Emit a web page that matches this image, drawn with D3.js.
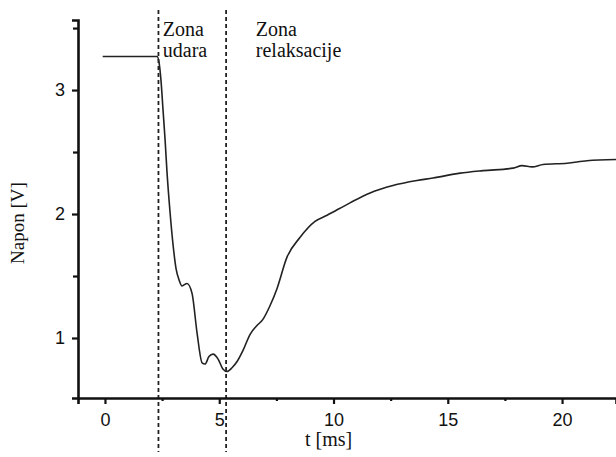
<!DOCTYPE html>
<html>
<head>
<meta charset="utf-8">
<script src="https://cdn.jsdelivr.net/npm/d3@7"></script>
<style>
  body { margin: 0; background: #fff; }
</style>
</head>
<body>
<div id="chart"></div>
<script>
// data
var time = [-0.1, 2.28, 2.36, 2.45, 2.54, 2.63, 2.71, 2.84, 2.98, 3.11, 3.24, 3.37, 3.59, 3.81, 4.03, 4.25, 4.38, 4.55, 4.73, 4.95, 5.16, 5.34, 5.56, 5.78, 6.04, 6.35, 6.65, 6.91, 7.22, 7.53, 7.96, 8.53, 9.19, 9.72, 10.72, 11.6, 12.6, 13.65, 14.35, 15.54, 16.54, 17.86, 18.25, 18.69, 19.17, 20.22, 21.09, 22.36];
var voltage = [3.27, 3.27, 3.23, 3.08, 2.84, 2.6, 2.35, 2.03, 1.75, 1.56, 1.47, 1.42, 1.44, 1.36, 1.04, 0.8, 0.79, 0.85, 0.87, 0.83, 0.75, 0.73, 0.76, 0.81, 0.9, 1.03, 1.1, 1.15, 1.26, 1.4, 1.65, 1.81, 1.94, 1.99, 2.09, 2.17, 2.23, 2.27, 2.29, 2.33, 2.35, 2.37, 2.39, 2.38, 2.4, 2.41, 2.43, 2.44];
var xTicks = [0, 5, 10, 15, 20];
var xMinor = [2.5, 7.5, 12.5, 17.5];
var yTicks = [1, 2, 3];
var yMinor = [1.5, 2.5, 3.5];
var zoneBounds = [2.34, 5.3];
var zoneLabels = [["Zona", "udara"], ["Zona", "relaksacije"]];
var zoneLabelT = [2.53, 6.6];

var width = 616, height = 457;
var serif = "'Liberation Serif', 'Times New Roman', serif";
var sans = "'Liberation Sans', Arial, sans-serif";

var svg = d3.select("#chart")
  .append("svg")
    .attr("width", width)
    .attr("height", height);

var x = d3.scaleLinear()
  .domain([-1.18, 22.36])
  .range([78, 616]);

var y = d3.scaleLinear()
  .domain([0.516, 3.565])
  .range([398, 20]);

// curve
var line = d3.line()
  .x(function(d) { return x(d[0]); })
  .y(function(d) { return y(d[1]); })
  .curve(d3.curveMonotoneX);

svg.append("path")
  .datum(time.map(function(t, i) { return [t, voltage[i]]; }))
  .attr("d", line)
  .attr("fill", "none")
  .attr("stroke", "#222")
  .attr("stroke-width", 1.6);

// zone boundaries
svg.selectAll(".zone")
  .data(zoneBounds)
  .enter()
  .append("line")
    .attr("x1", function(d) { return x(d); })
    .attr("x2", function(d) { return x(d); })
    .attr("y1", 10)
    .attr("y2", 452)
    .attr("stroke", "#222")
    .attr("stroke-width", 1.8)
    .attr("stroke-dasharray", "4,3");

// X axis
svg.append("g")
  .attr("transform", "translate(0,398)")
  .call(d3.axisBottom(x).tickValues(xTicks).tickSize(6).tickPadding(9).tickFormat(d3.format("d")));
svg.append("g")
  .attr("transform", "translate(0,398)")
  .call(d3.axisBottom(x).tickValues(xMinor).tickSize(3).tickFormat(""))
  .select(".domain").remove();

// Y axis
svg.append("g")
  .attr("transform", "translate(78,0)")
  .call(d3.axisLeft(y).tickValues(yTicks).tickSize(6).tickPadding(7).tickFormat(d3.format("d")));
svg.append("g")
  .attr("transform", "translate(78,0)")
  .call(d3.axisLeft(y).tickValues(yMinor).tickSize(5).tickFormat(""))
  .select(".domain").remove();

svg.selectAll(".domain").attr("stroke", "#111").attr("stroke-width", 2.6);
svg.selectAll(".tick line").attr("stroke", "#111").attr("stroke-width", 2.2);
svg.selectAll(".tick text")
  .style("font-family", sans)
  .style("font-size", "18px")
  .attr("fill", "#111");

// zone labels
zoneLabels.forEach(function(lines, i) {
  var txt = svg.append("text")
    .style("font-family", serif)
    .style("font-size", "20px")
    .attr("fill", "#111")
    .attr("x", x(zoneLabelT[i]))
    .attr("y", 36);
  lines.forEach(function(s, j) {
    txt.append("tspan")
      .attr("x", x(zoneLabelT[i]))
      .attr("dy", j === 0 ? 0 : 21)
      .text(s);
  });
});

// axis titles
svg.append("text")
  .style("font-family", serif)
  .style("font-size", "20px")
  .attr("fill", "#111")
  .attr("x", 305)
  .attr("y", 446)
  .text("t [ms]");

svg.append("text")
  .style("font-family", serif)
  .style("font-size", "19px")
  .attr("fill", "#111")
  .attr("text-anchor", "middle")
  .attr("transform", "translate(24,223)rotate(-90)")
  .text("Napon [V]");
</script>
</body>
</html>
